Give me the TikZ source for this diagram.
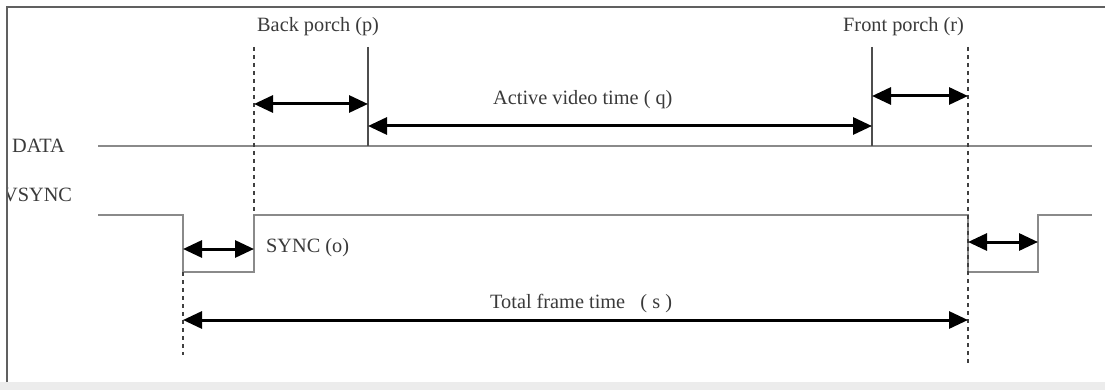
\documentclass[tikz,border=0pt]{standalone}
\usepackage{fontspec}
\setmainfont{Liberation Serif}
\usetikzlibrary{arrows.meta}
\definecolor{sig}{HTML}{8A8A8A}
\definecolor{txt}{HTML}{3A3A3A}
\definecolor{frm}{HTML}{606060}
\definecolor{band}{HTML}{ECECEC}
\tikzset{
  lbl/.style={anchor=base west,inner sep=0pt,text=txt,font=\fontsize{20.3}{24}\selectfont},
  signal/.style={draw=sig,line width=1.8pt},
  marker/.style={draw=frm!80!black,line width=1.3pt},
  guide/.style={draw=black!75,line width=2.5pt,dash pattern=on 4pt off 4pt},
  span/.style={line width=3pt,black,{Triangle[length=19pt,width=17pt]}-{Triangle[length=19pt,width=17pt]}},
}
\begin{document}
\begin{tikzpicture}[x=1pt,y=-1pt]
\useasboundingbox (0,0) rectangle (1105,390);
\fill[white] (0,0) rectangle (1105,390);
\fill[band] (0,382) rectangle (1105,390);
% texts
\node[lbl] (tbp) at (257,32) {Back porch (p)};
\node[lbl] (tfp) at (843,32) {Front porch (r)};
\node[lbl] (tav) at (493,105) {Active video time ( q)};
\node[lbl] (tdata) at (12,153) {DATA};
\node[lbl] (tvs) at (3,202) {VSYNC};
\node[lbl] (tsync) at (266,252) {SYNC (o)};
\node[lbl] (ttot) at (490,308) {Total frame time\ \ \ ( s )};
% frame
\fill[white] (0,0) rectangle (7,382);
\draw[frm,line width=1.5pt] (7,382) -- (7,7) -- (1105,7);
% coordinates
\coordinate (d1t) at (254,47);
\coordinate (d1b) at (254,215);
\coordinate (d2t) at (183,272);
\coordinate (d2b) at (183,355);
\coordinate (d3t) at (968,47);
\coordinate (d3b) at (968,363);
\coordinate (v1t) at (368,47);
\coordinate (v1b) at (368,146);
\coordinate (v2t) at (872,47);
\coordinate (v2b) at (872,146);
\coordinate (ds) at (98,146);
\coordinate (de) at (1092,146);
% signals
\path[signal] (ds) -- (de);
\path[signal] (98,215) -- (183,215) -- (183,272) -- (254,272) -- (254,215)
  -- (968,215) -- (968,272) -- (1038,272) -- (1038,215) -- (1092,215);
\path[marker] (v1t) -- (v1b);
\path[marker] (v2t) -- (v2b);
% guides
\path[guide] (d1t) -- (d1b);
\path[guide] (d2t) -- (d2b);
\path[guide] (d3t) -- (d3b);
% spans
\coordinate (bpL) at (254,104); \coordinate (bpR) at (368,104);
\coordinate (avL) at (368,126); \coordinate (avR) at (872,126);
\coordinate (fpL) at (872,96);  \coordinate (fpR) at (968,96);
\coordinate (s1L) at (183,249); \coordinate (s1R) at (254,249);
\coordinate (s2L) at (968,242); \coordinate (s2R) at (1038,242);
\coordinate (tfL) at (183,320); \coordinate (tfR) at (968,320);
\draw[span] (bpL) -- (bpR);
\draw[span] (avL) -- (avR);
\draw[span] (fpL) -- (fpR);
\draw[span] (s1L) -- (s1R);
\draw[span] (s2L) -- (s2R);
\draw[span] (tfL) -- (tfR);
\end{tikzpicture}
\end{document}
